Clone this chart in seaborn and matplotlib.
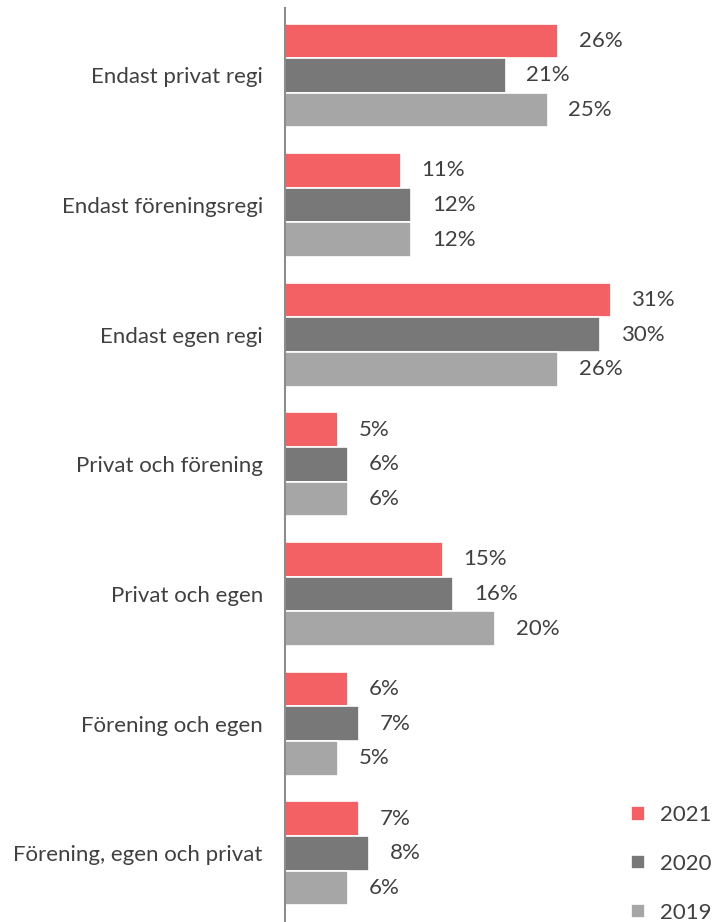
import pandas as pd
import seaborn as sns
import matplotlib
import matplotlib.pyplot as plt

matplotlib.use('Agg')

categories = ['Endast privat regi', 'Endast föreningsregi', 'Endast egen regi',
              'Privat och förening', 'Privat och egen', 'Förening och egen',
              'Förening, egen och privat']
years = ['2021', '2020', '2019']
v2021 = [26, 11, 31, 5, 15, 6, 7]
v2020 = [21, 12, 30, 6, 16, 7, 8]
v2019 = [25, 12, 26, 6, 20, 5, 6]
colors = ['#F46165', '#787878', '#A6A6A6']

rows = []
for year, vals in zip(years, [v2021, v2020, v2019]):
    for cat, v in zip(categories, vals):
        rows.append({'kategori': cat, 'år': year, 'andel': v})
df = pd.DataFrame(rows)

sns.set_theme(style='white')
plt.rcParams['font.family'] = ['Lato', 'DejaVu Sans']
txt = '#404040'
fs = 16

fig = plt.figure(figsize=(7.12, 9.22), dpi=100)
ax = fig.add_axes([285 / 712, 0.0, 420 / 712, 1 - 8 / 922])

sns.barplot(data=df, y='kategori', x='andel', hue='år', order=categories,
            hue_order=years, palette=colors, orient='h', width=0.8,
            edgecolor='white', linewidth=1.2, saturation=1, ax=ax)

for cont in ax.containers:
    ax.bar_label(cont, labels=[f'{int(b.get_width())}%' for b in cont],
                 padding=15, fontsize=fs, color=txt)

ax.set_xlim(0, 40)
ax.set_ylim(6.53, -0.52)
ax.set_xlabel('')
ax.set_ylabel('')
ax.set_xticks([])
ax.tick_params(axis='y', length=0, pad=16, labelsize=fs, labelcolor=txt)
for s in ['top', 'right', 'bottom']:
    ax.spines[s].set_visible(False)
ax.spines['left'].set_color('#8C8C8C')
ax.spines['left'].set_linewidth(1.5)

handles, labels = ax.get_legend_handles_labels()
ax.get_legend().remove()
fig.legend(handles, labels, loc='lower left', bbox_to_anchor=(631 / 712, -0.001),
           frameon=False, fontsize=fs, labelcolor=txt, handlelength=0.63,
           handleheight=0.63, handletextpad=0.68, labelspacing=1.3,
           borderpad=0, borderaxespad=0)

fig.savefig('out.png', dpi=100)
